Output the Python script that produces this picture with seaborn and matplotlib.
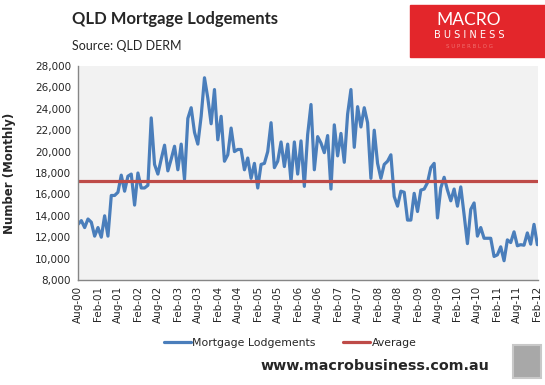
import numpy as np
import pandas as pd
import matplotlib
matplotlib.use("Agg")
import matplotlib.pyplot as plt
import seaborn as sns
from matplotlib.patches import Rectangle
from matplotlib.lines import Line2D

# monthly QLD mortgage lodgements, Aug-2000 .. Feb-2012
lodgements = [
    13200, 13550, 12900, 13700, 13400, 12100, 12900, 12000, 14000, 12100,
    15900, 15900, 16200, 17800, 16300, 17700, 17900, 15000, 18000, 16600,
    16600, 16850, 23150, 18800, 17900, 19300, 20600, 18200, 19300, 20500,
    18300, 20700, 17400, 23100, 24100, 21800, 20700, 23300, 26900, 25000,
    22600, 25800, 21100, 23300, 19100, 19700, 22200, 20000, 20200, 20200,
    18300, 19400, 17500, 18900, 16600, 18800, 18900, 20000, 22700, 18500,
    19100, 20900, 18600, 20700, 17200, 20900, 17900, 21000, 16750, 21600,
    24400, 18300, 21400, 20800, 19900, 21500, 16500, 22500, 19600, 21700,
    19000, 23500, 25800, 20400, 24200, 22300, 24100, 22700, 17500, 22000,
    18900, 17500, 18800, 19100, 19700, 15800, 14900, 16300, 16200, 13600,
    13600, 16100, 14400, 16400, 16500, 17100, 18500, 18900, 13800, 16600,
    17600, 16400, 15400, 16500, 14900, 16700, 14100, 11400, 14600, 15200,
    12100, 12900, 11900, 11900, 11900, 10200, 10350, 11100, 9800, 11750,
    11500, 12500, 11200, 11300, 11250, 12400, 11350, 13200, 11300,
]
average_value = 17250
months = pd.date_range("2000-08-01", periods=len(lodgements), freq="MS")
y_ticks = list(range(8000, 28001, 2000))

df = pd.DataFrame({
    "idx": np.arange(len(lodgements)),
    "Mortgage Lodgements": lodgements,
    "Average": [average_value] * len(lodgements),
})

sns.set_style("white")
plt.rcParams["font.family"] = ["DejaVu Sans"]

blue = "#4A7EBB"
red = "#BE4B48"

fig = plt.figure(figsize=(5.45, 3.85), dpi=100)
ax = fig.add_axes([78 / 545, 1 - 280 / 385, 460 / 545, 214 / 385])
ax.set_facecolor("#F2F2F2")

sns.lineplot(data=df, x="idx", y="Mortgage Lodgements", ax=ax, color=blue, linewidth=2.3)
sns.lineplot(data=df, x="idx", y="Average", ax=ax, color=red, linewidth=2.3)

ax.set_xlim(0, len(lodgements) - 0.8)
ax.set_ylim(8000, 28000)
ax.set_yticks(y_ticks)
ax.set_yticklabels([f"{v:,}" for v in y_ticks], fontsize=7.5)
tick_idx = list(range(0, len(lodgements), 6))
ax.set_xticks(tick_idx)
ax.set_xticklabels([months[i].strftime("%b-%y") for i in tick_idx], rotation=90, fontsize=7.5)
ax.tick_params(axis="both", direction="out", length=3, color="#868686", pad=2)
ax.tick_params(axis="x", pad=1)
for s in ["top", "right"]:
    ax.spines[s].set_visible(False)
for s in ["left", "bottom"]:
    ax.spines[s].set_color("#868686")
    ax.spines[s].set_linewidth(1)
ax.set_xlabel("")
ax.set_ylabel("Number (Monthly)", fontsize=8.5, fontweight="bold")
ax.yaxis.set_label_coords(-0.134, 0.5)

# titles
fig.text(72 / 545, 1 - 19 / 385, "QLD Mortgage Lodgements", fontsize=12, fontweight="bold",
         family="Lato", va="center", ha="left")
fig.text(72 / 545, 1 - 46 / 385, "Source: QLD DERM", fontsize=9, family="Lato",
         va="center", ha="left")

# logo box
fig.patches.append(Rectangle((410 / 545, 1 - 57 / 385), 135 / 545, 52 / 385,
                             transform=fig.transFigure, color="#E3262B", zorder=0))
fig.text(469 / 545, 1 - 20 / 385, "MACRO", color="white", fontsize=12.5, ha="center",
         va="center", family="Lato")
fig.text(469 / 545, 1 - 35 / 385, "B U S I N E S S", color="white", fontsize=7, ha="center",
         va="center", family="DejaVu Sans")
fig.text(469 / 545, 1 - 46 / 385, "S U P E R B L O G", color="#F07070", fontsize=4,
         ha="center", va="center", family="DejaVu Sans")

# legend
handles = [Line2D([], [], color=blue, linewidth=2.3), Line2D([], [], color=red, linewidth=2.3)]
fig.legend(handles, ["Mortgage Lodgements", "Average"], loc="center",
           bbox_to_anchor=(290 / 545, 1 - 343 / 385), ncol=2, frameon=False,
           fontsize=7.8, handlelength=2.5, handletextpad=0.1, columnspacing=2.6)

fig.text(375 / 545, 1 - 366 / 385, "www.macrobusiness.com.au", fontsize=10.3,
         fontweight="bold", ha="center", va="center", family="DejaVu Sans")

# wolf picture placeholder
fig.patches.append(Rectangle((513 / 545, 1 - 378 / 385), 28 / 545, 33 / 385,
                             transform=fig.transFigure, facecolor="#A8A8A8",
                             edgecolor="#C8C8C8", linewidth=1.5, zorder=0))

fig.savefig("out.png", dpi=100)
